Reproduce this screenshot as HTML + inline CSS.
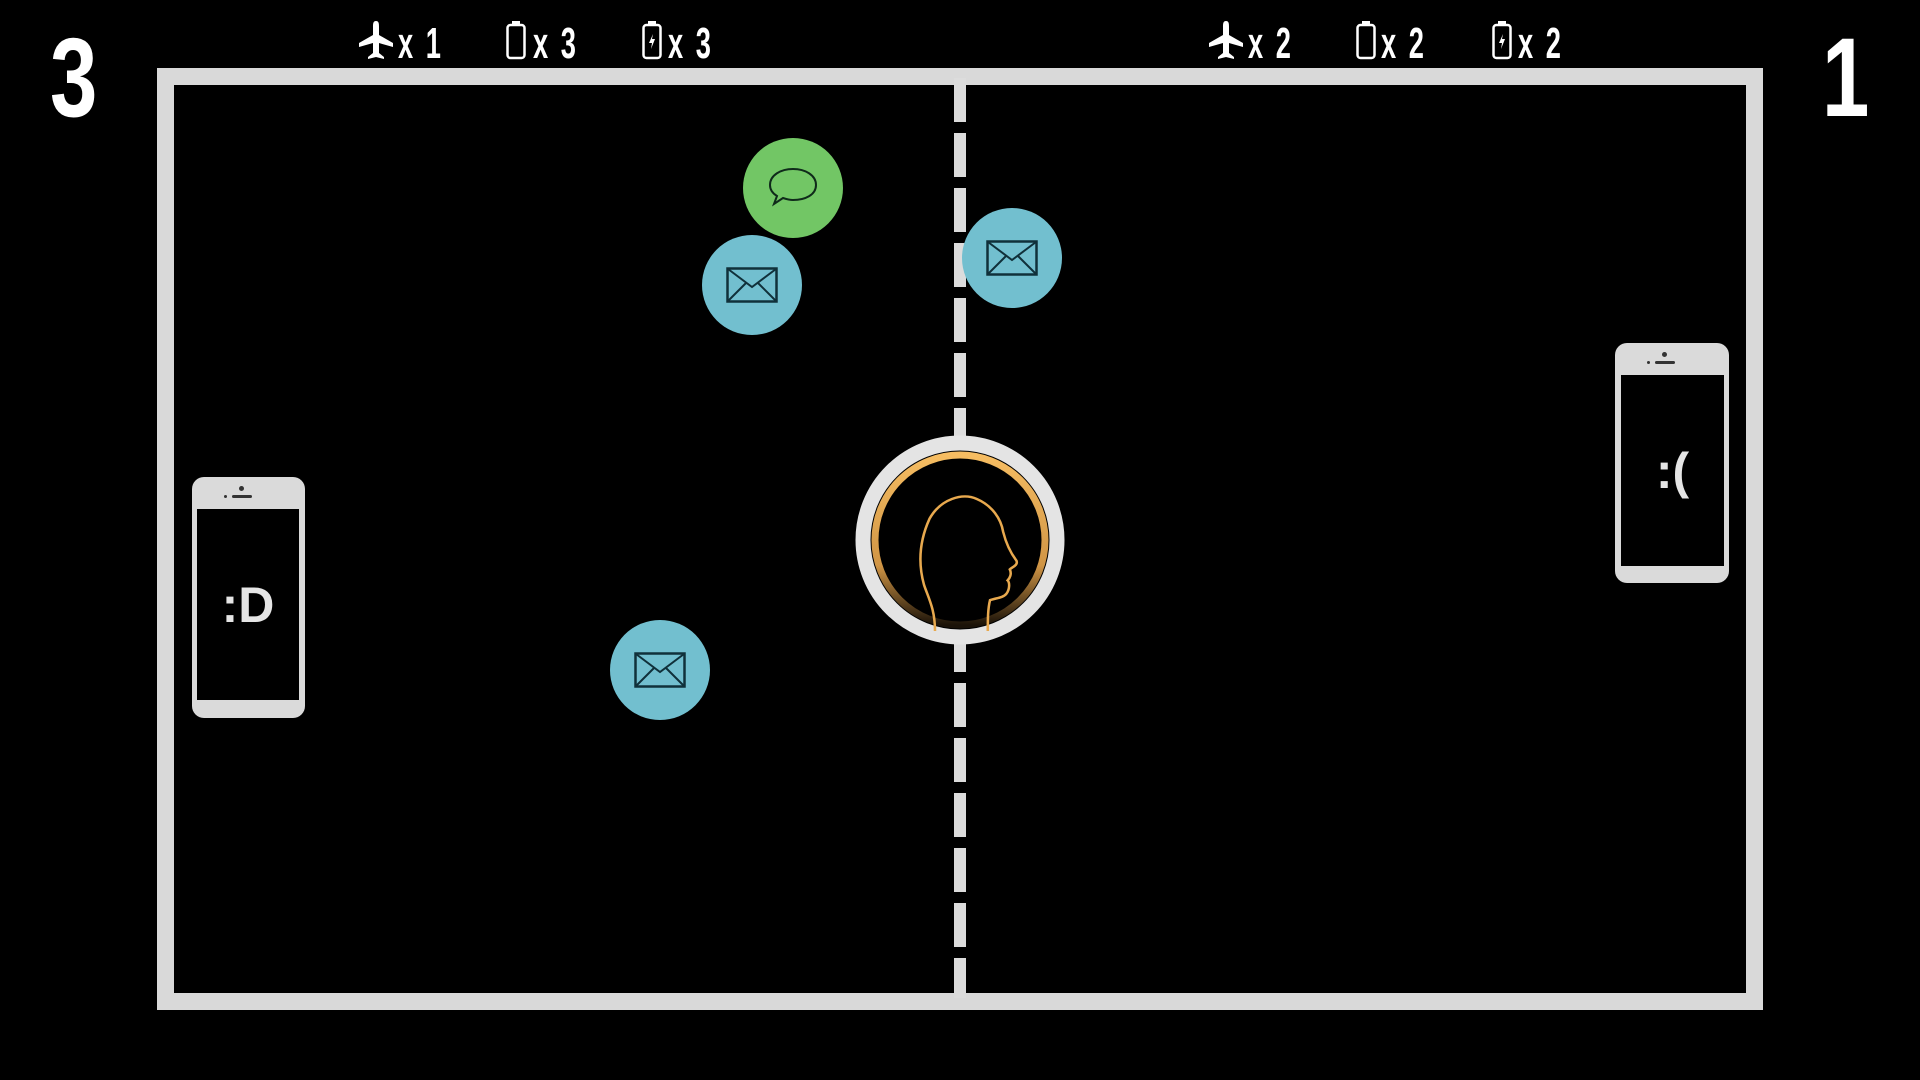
<!DOCTYPE html>
<html><head><meta charset="utf-8"><style>
html,body{margin:0;padding:0;background:#000;width:1920px;height:1080px;overflow:hidden;position:relative;font-family:"Liberation Sans",sans-serif}
.abs{position:absolute}
.field{left:157px;top:68px;width:1572px;height:908px;border:17px solid #d9d9d9;}
.dash{left:954px;top:78px;width:12px;height:920px;background:repeating-linear-gradient(to bottom,#dcdcdc 0 44px,transparent 44px 55px)}
.score{color:#fff;font-weight:bold;font-size:112px;transform:scaleX(0.76);transform-origin:left top;line-height:1}
.hud{color:#fff;font-weight:bold;font-size:44px;transform:scaleX(0.62);transform-origin:left top;line-height:1;letter-spacing:4px}
.circ{border-radius:50%;width:100px;height:100px;display:flex;align-items:center;justify-content:center}
.phone{background:#dadada;border-radius:12px}
.scr{background:#000;position:absolute;color:#e5e5e5;font-weight:bold;font-size:50px;display:flex;align-items:center;justify-content:center}
</style></head><body>
<div class="abs field"></div>
<div class="abs dash"></div>
<div class="abs score" style="left:50px;top:22px">3</div>
<div class="abs score" style="left:1822px;top:22px">1</div>

<svg class="abs" style="left:0;top:0" width="1920" height="100">
 <defs>
  <g id="plane"><path d="M17 0 C14 0 14 3 14 6 L14 14 L0 22 L0 26 L14 22 L14 32 L9 36 L9 38 L17 36 L25 38 L25 36 L20 32 L20 22 L34 26 L34 22 L20 14 L20 6 C20 3 20 0 17 0Z" fill="#fff"/></g>
  <g id="bat"><rect x="1.5" y="5" width="17" height="33" rx="3" fill="none" stroke="#fff" stroke-width="2.5"/><rect x="6" y="1" width="8" height="3" fill="#fff"/></g>
  <g id="batc"><use href="#bat"/><path d="M11 14 L7 23 L10 23 L9 29 L13 19 L10 19Z" fill="#fff"/></g>
 </defs>
 <use href="#plane" x="359" y="21"/>
 <use href="#bat" x="506" y="20"/>
 <use href="#batc" x="642" y="20"/>
 <use href="#plane" x="1209" y="21"/>
 <use href="#bat" x="1356" y="20"/>
 <use href="#batc" x="1492" y="20"/>
</svg>
<div class="abs hud" style="left:398px;top:22px">x 1</div>
<div class="abs hud" style="left:533px;top:22px">x 3</div>
<div class="abs hud" style="left:668px;top:22px">x 3</div>
<div class="abs hud" style="left:1248px;top:22px">x 2</div>
<div class="abs hud" style="left:1381px;top:22px">x 2</div>
<div class="abs hud" style="left:1518px;top:22px">x 2</div>

<!-- center -->
<svg class="abs" style="left:850px;top:430px" width="220" height="220">
 <defs><linearGradient id="gg" x1="0" y1="0" x2="0" y2="1"><stop offset="0" stop-color="#f6bd62"/><stop offset="0.65" stop-color="#d09545"/><stop offset="1" stop-color="#1a1208"/></linearGradient></defs>
 <circle cx="110" cy="110" r="104" fill="#000"/>
 <circle cx="110" cy="110" r="97" fill="none" stroke="#e4e4e4" stroke-width="15"/>
 <circle cx="110" cy="110" r="85" fill="none" stroke="url(#gg)" stroke-width="7"/>
 <g transform="translate(-14,-8) scale(1.1)">
 <path d="M90 190 C90 170 84 160 80 148 C75 130 75 110 85 88 C95 70 115 64 128 70 C142 76 150 88 152 100 C154 108 158 118 164 126 C166 130 160 132 158 134 C160 138 158 142 156 144 C158 146 158 152 155 156 C152 160 145 160 140 162 C138 170 138 180 138 190" fill="none" stroke="#e8a94e" stroke-width="2.3"/>
 </g>
</svg>

<!-- circles -->
<div class="abs circ" style="left:743px;top:138px;background:#72c665">
 <svg width="50" height="44" viewBox="0 0 50 44"><path d="M25 3 C37 3 48 9 48 19 C48 29 37 34 25 34 C21 34 18 33 15 32 L6 38 L9 30 C4 27 2 23 2 19 C2 9 13 3 25 3Z" fill="none" stroke="#0f2a1a" stroke-width="2"/></svg>
</div>
<div class="abs circ" style="left:702px;top:235px;background:#72bfcf">
 <svg width="52" height="36" viewBox="0 0 52 36"><rect x="1.5" y="1.5" width="49" height="33" fill="none" stroke="#10303a" stroke-width="2.5"/><path d="M2 2 L26 20 L50 2 M2 34 L20 16 M50 34 L32 16" fill="none" stroke="#10303a" stroke-width="2"/></svg>
</div>
<div class="abs circ" style="left:962px;top:208px;background:#72bfcf">
 <svg width="52" height="36" viewBox="0 0 52 36"><rect x="1.5" y="1.5" width="49" height="33" fill="none" stroke="#10303a" stroke-width="2.5"/><path d="M2 2 L26 20 L50 2 M2 34 L20 16 M50 34 L32 16" fill="none" stroke="#10303a" stroke-width="2"/></svg>
</div>
<div class="abs circ" style="left:610px;top:620px;background:#72bfcf">
 <svg width="52" height="36" viewBox="0 0 52 36"><rect x="1.5" y="1.5" width="49" height="33" fill="none" stroke="#10303a" stroke-width="2.5"/><path d="M2 2 L26 20 L50 2 M2 34 L20 16 M50 34 L32 16" fill="none" stroke="#10303a" stroke-width="2"/></svg>
</div>

<!-- phones -->
<div class="abs phone" style="left:192px;top:477px;width:113px;height:241px">
 <div class="abs" style="left:47px;top:9px;width:5px;height:5px;border-radius:50%;background:#333"></div>
 <div class="abs" style="left:40px;top:18px;width:20px;height:3px;background:#333;border-radius:2px"></div>
 <div class="abs" style="left:32px;top:18px;width:3px;height:3px;background:#333;border-radius:50%"></div>
 <div class="scr" style="left:5px;top:32px;width:102px;height:191px">:D</div>
</div>
<div class="abs phone" style="left:1615px;top:343px;width:114px;height:240px">
 <div class="abs" style="left:47px;top:9px;width:5px;height:5px;border-radius:50%;background:#333"></div>
 <div class="abs" style="left:40px;top:18px;width:20px;height:3px;background:#333;border-radius:2px"></div>
 <div class="abs" style="left:32px;top:18px;width:3px;height:3px;background:#333;border-radius:50%"></div>
 <div class="scr" style="left:6px;top:32px;width:103px;height:191px">:(</div>
</div>
</body></html>
